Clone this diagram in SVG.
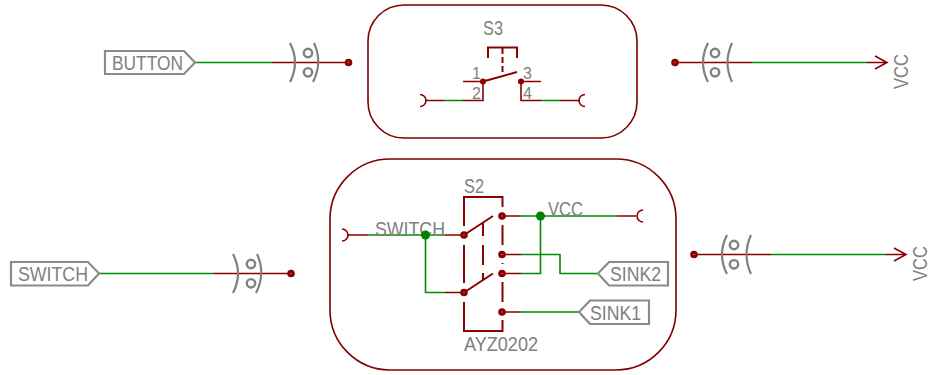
<svg xmlns="http://www.w3.org/2000/svg" width="930" height="375" viewBox="0 0 930 375">
<style>
.r{fill:none;stroke:#8b0000;stroke-width:1.6}
.t{fill:none;stroke:#8b0000;stroke-width:2}
.g{fill:none;stroke:#008c00;stroke-width:1.6}
.k{fill:none;stroke:#8a8a8a;stroke-width:2.200}
.a{fill:none;stroke:#808080;stroke-width:2.200}
.c{fill:none;stroke:#808080;stroke-width:2.400}
.d{fill:#8b0000;stroke:none}
.j{fill:#008000}
.e{fill:none;stroke:#8b0000;stroke-width:1.600}
text{font-family:"Liberation Sans",Arial,sans-serif;font-size:20px;fill:#808080}
.s{font-size:16px}
</style>
<defs>
<g id="pad"><circle r="3.800" class="d"/><circle r=".8" fill="#c06060"/></g>
<g id="connR"><path class="a" d="M0-19.5Q10 0 0 19.5M24-19.5Q33 0 23 19.5"/><circle class="c" cx="18" cy="-9.5" r="4.200"/><circle class="c" cx="18" cy="9.800" r="4.200"/></g>
<g id="connL"><path class="a" d="M0-19.5Q-10 0 0 19.5M24-19.5Q15 0 24 19.5"/><circle class="c" cx="7" cy="-9.5" r="4.200"/><circle class="c" cx="7" cy="9.800" r="4.200"/></g>
</defs>
<g id="connectors">
<path class="g" d="M195 62.5H272"/><path class="r" d="M272 62.5H348"/>
<path class="r" d="M675 62.5H752M867 62.5H887M875 56L887 62.5L875 69"/><path class="g" d="M752 62.5H867"/>
<path class="g" d="M99 273.5H214"/><path class="r" d="M214 273.5H291"/>
<path class="r" d="M694 254.5H771M886 254.5H906M894 248L906 254.5L894 261"/><path class="g" d="M771 254.5H886"/>
<path class="r" d="M425 100.5H444M463 100.5H483V81.5M521 81.5V100.5H541M560 100.5H580"/>
<path class="g" d="M444 100.5H463M541 100.5H560"/>
<path class="r" d="M347 235H368M445 235H464M445 292.5H464M502 216H521M617 216H636M502 254.5H521M502 273.5H521M502 312H521"/>
<path class="g" d="M368 235H445M425.5 235V292.5H445M521 216H617M540.5 216V273.5H521M521 254.5H560V273.5H598M521 312H579"/>
</g>
<g id="frame-s3"><rect x="368" y="5" width="269" height="133" rx="36" fill="none" stroke="#7f0000" stroke-width="1.6"/></g>
<g id="frame-s2"><rect x="330" y="159" width="346" height="211" rx="60" fill="none" stroke="#7f0000" stroke-width="1.6"/></g>
<g id="tag-button"><path class="k" d="M105 51H184L195 62.5L184 74H105Z"/><text x="112" y="69.500" textLength="71" lengthAdjust="spacingAndGlyphs">BUTTON</text></g>
<g id="conn-button"><use href="#connR" x="290" y="62.5"/><use href="#pad" x="348.500" y="62.500"/></g>
<g id="conn-vcc-top"><use href="#connL" x="708" y="62.5"/><use href="#pad" x="675" y="62.500"/><text transform="translate(908 89) rotate(-90)" textLength="35" lengthAdjust="spacingAndGlyphs">VCC</text></g>
<g id="tag-switch"><path class="k" d="M11 262H88L99 273.500L88 285.500H11Z"/><text x="18" y="280.500" textLength="70" lengthAdjust="spacingAndGlyphs">SWITCH</text></g>
<g id="conn-switch"><use href="#connR" x="233" y="273.5"/><use href="#pad" x="291" y="273.500"/></g>
<g id="conn-vcc-bottom"><use href="#connL" x="727" y="254.5"/><use href="#pad" x="694" y="254.500"/><text transform="translate(927 281) rotate(-90)" textLength="35" lengthAdjust="spacingAndGlyphs">VCC</text></g>
<g id="S3">
<text x="483" y="35" textLength="20" lengthAdjust="spacingAndGlyphs">S3</text>
<path class="t" d="M488 58V47.500H517V58"/>
<path class="t" stroke-dasharray="6 3" d="M502.500 48V73"/>
<path class="t" d="M483 81.500L517 72"/>
<path class="r" d="M463 81.500H483M521 81.500H541"/>
<circle class="d" cx="483" cy="81.500" r="3"/><circle class="d" cx="521" cy="81.500" r="3"/>
<path class="e" d="M420 94.500A6 6 0 0 1 420 106.500M585 94.500A6 6 0 0 0 585 106.500"/>
<text class="s" x="472" y="79">1</text><text class="s" x="472" y="99">2</text><text class="s" x="523" y="79">3</text><text class="s" x="523" y="99">4</text>
</g>
<g id="S2">
<text x="464" y="193" textLength="20" lengthAdjust="spacingAndGlyphs">S2</text>
<path class="t" d="M464 226V197H502.500V207M502.500 225V245M502.500 263V264M502.500 282V302M502.500 320V331H464V302M464 283V245"/>
<path class="t" d="M483 222V236M483 245V265M483 273V280"/>
<path class="t" d="M464 235L493 216M464 292.500L493 273.500"/>
<use href="#pad" x="464" y="235"/><use href="#pad" x="464" y="292.500"/><use href="#pad" x="502" y="216"/><use href="#pad" x="502" y="254.500"/><use href="#pad" x="502" y="273.500"/><use href="#pad" x="502" y="312"/>
<path class="e" d="M342 229A6 6 0 0 1 342 241M643 210A6 6 0 0 0 643 222"/>
<text x="464" y="351" textLength="74" lengthAdjust="spacingAndGlyphs">AYZ0202</text>
</g>
<g id="net-labels">
<text x="375" y="236" textLength="70" lengthAdjust="spacingAndGlyphs">SWITCH</text>
<text x="548" y="216" textLength="35" lengthAdjust="spacingAndGlyphs">VCC</text>
<circle class="j" cx="425.500" cy="235" r="4.500"/><circle class="j" cx="540.500" cy="216" r="4.500"/>
</g>
<g id="tag-sink2"><path class="k" d="M598 273.500L609 262H668V285.500H609Z"/><text x="610" y="281" textLength="51" lengthAdjust="spacingAndGlyphs">SINK2</text></g>
<g id="tag-sink1"><path class="k" d="M579 312L590 300.500H649V324H590Z"/><text x="590" y="319.500" textLength="51" lengthAdjust="spacingAndGlyphs">SINK1</text></g>
</svg>
